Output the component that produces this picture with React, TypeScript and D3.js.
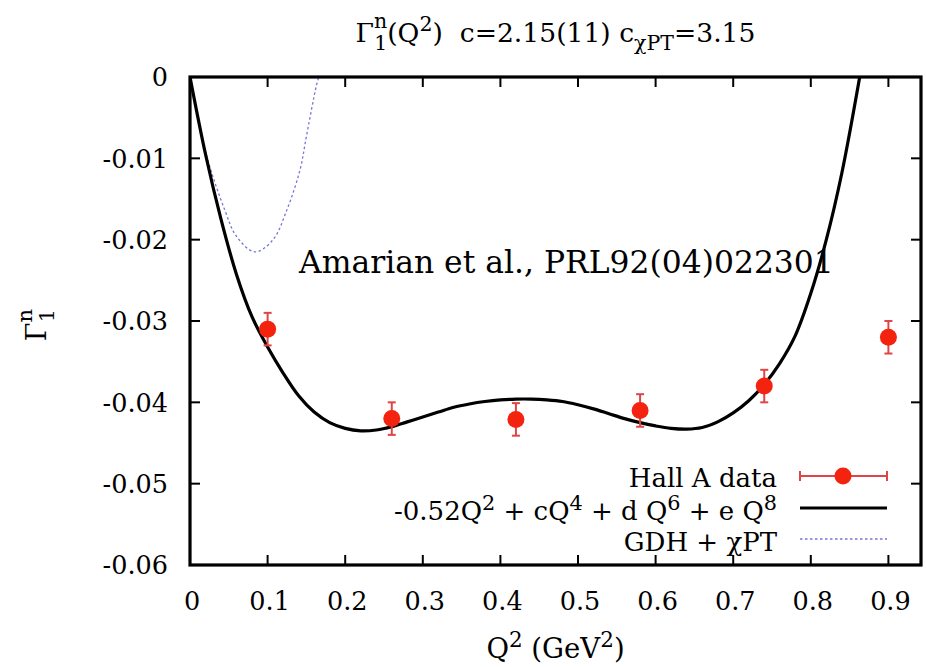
import React from "react";
import * as d3 from "d3";

// Hall A neutron first-moment data
const q2 = [0.1, 0.26, 0.42, 0.58, 0.74, 0.9];
const gamma = [-0.031, -0.042, -0.0421, -0.041, -0.038, -0.032];
const gammaErr = [0.002, 0.002, 0.002, 0.002, 0.002, 0.002];

// Polynomial fit curve, sampled
const fitQ2 = [0, 0.02, 0.04, 0.06, 0.08, 0.1, 0.12, 0.14, 0.16, 0.18, 0.2, 0.22, 0.24, 0.26, 0.28, 0.3, 0.32, 0.34, 0.36, 0.38, 0.4, 0.42, 0.44, 0.46, 0.48, 0.5, 0.52, 0.54, 0.56, 0.58, 0.6, 0.62, 0.64, 0.66, 0.68, 0.7, 0.72, 0.74, 0.76, 0.78, 0.8, 0.82, 0.84, 0.863];
const fitG = [0, -0.0095, -0.0175, -0.0243, -0.0295, -0.0332, -0.0364, -0.0392, -0.0412, -0.0425, -0.0432, -0.0435, -0.0434, -0.043, -0.0424, -0.0418, -0.0412, -0.0406, -0.0402, -0.0399, -0.0397, -0.0396, -0.0396, -0.0397, -0.0399, -0.0403, -0.0408, -0.0414, -0.042, -0.0425, -0.0429, -0.0432, -0.0433, -0.0431, -0.0424, -0.0413, -0.0398, -0.0378, -0.0352, -0.0318, -0.0266, -0.02, -0.0118, 0];

// GDH + chiPT curve, sampled
const gdhQ2 = [0, 0.02, 0.045, 0.06, 0.0838, 0.107, 0.1246, 0.1418, 0.15, 0.163, 0.166];
const gdhG = [0, -0.0092, -0.0164, -0.0196, -0.0215, -0.02, -0.0164, -0.0114, -0.0073, -0.001, 0];

const xTicks = [0, 0.1, 0.2, 0.3, 0.4, 0.5, 0.6, 0.7, 0.8, 0.9];
const xTickLabels = ["0", "0.1", "0.2", "0.3", "0.4", "0.5", "0.6", "0.7", "0.8", "0.9"];
const yTicks = [0, -0.01, -0.02, -0.03, -0.04, -0.05, -0.06];
const yTickLabels = ["0", "-0.01", "-0.02", "-0.03", "-0.04", "-0.05", "-0.06"];

const W = 926;
const H = 667;
const left = 190;
const right = 921;
const top = 77;
const bottom = 565;

const FONT = '"DejaVu Serif", serif';
const RED = "#f3230f";
const BAR = "#e04545";
const BLUE = "#7575d8";

export default function App() {
  const x = d3.scaleLinear().domain([0, 0.942]).range([left, right]);
  const y = d3.scaleLinear().domain([-0.06, 0]).range([bottom, top]);

  const line = d3
    .line<number>()
    .x((_, i) => x(fitQ2[i]))
    .y((d) => y(d))
    .curve(d3.curveCatmullRom.alpha(0.5));
  const gdhLine = d3
    .line<number>()
    .x((_, i) => x(gdhQ2[i]))
    .y((d) => y(d))
    .curve(d3.curveCatmullRom.alpha(0.5));

  const tickLen = 10;
  const tfs = 25.5;
  const lfs = 26;
  const sup = (s: string, f: number, raise: number) => (
    <tspan fontSize={f * 0.8} dy={-raise}>{s}</tspan>
  );
  const st: React.CSSProperties = { fontFamily: FONT, whiteSpace: "pre" };

  return (
    <svg
      width={W}
      height={H}
      style={{ position: "absolute", left: 0, top: 0, background: "#fff", fontFamily: FONT }}
    >
      <rect x={0} y={0} width={W} height={H} fill="#fff" />
      <defs>
        <clipPath id="plotArea">
          <rect x={left} y={top} width={right - left} height={bottom - top} />
        </clipPath>
      </defs>

      {/* Title */}
      <text x={(left + right) / 2} y={42} fontSize={26.6} textAnchor="middle" style={st}>
        Γ
        <tspan fontSize={20.5} dy={-14}>n</tspan>
        <tspan fontSize={20.5} dx={-13} dy={22}>1</tspan>
        <tspan dy={-8}>(Q</tspan>
        <tspan fontSize={20.5} dy={-11}>2</tspan>
        <tspan dy={11}>)  c=2.15(11) c</tspan>
        <tspan fontSize={20.5} dy={8}>χPT</tspan>
        <tspan dy={-8}>=3.15</tspan>
      </text>

      {/* Ticks */}
      <g stroke="#000" strokeWidth={2}>
        {xTicks.map((t) => (
          <g key={"xt" + t}>
            <line x1={x(t)} x2={x(t)} y1={bottom} y2={bottom - tickLen} />
            <line x1={x(t)} x2={x(t)} y1={top} y2={top + tickLen} />
          </g>
        ))}
        {yTicks.map((t) => (
          <g key={"yt" + t}>
            <line x1={left} x2={left + tickLen} y1={y(t)} y2={y(t)} />
            <line x1={right} x2={right - tickLen} y1={y(t)} y2={y(t)} />
          </g>
        ))}
      </g>

      {/* Tick labels */}
      {xTicks.map((t, i) => (
        <text key={"xl" + t} x={x(t) + 2} y={610} fontSize={tfs} textAnchor="middle" style={st}>
          {xTickLabels[i]}
        </text>
      ))}
      {yTicks.map((t, i) => (
        <text key={"yl" + t} x={168} y={y(t)} dy="0.36em" fontSize={tfs} textAnchor="end" style={st}>
          {yTickLabels[i]}
        </text>
      ))}

      {/* Axis labels */}
      <text x={(left + right) / 2} y={658} fontSize={27.5} textAnchor="middle" style={st}>
        Q
        <tspan fontSize={21.5} dy={-11}>2</tspan>
        <tspan dy={11}> (GeV</tspan>
        <tspan fontSize={21.5} dy={-11}>2</tspan>
        <tspan dy={11}>)</tspan>
      </text>
      <text transform="translate(46,325) rotate(-90)" fontSize={27} textAnchor="middle" style={st}>
        Γ
        <tspan fontSize={21} dy={-14}>n</tspan>
        <tspan fontSize={21} dx={-13.3} dy={22}>1</tspan>
      </text>

      {/* Curves */}
      <g clipPath="url(#plotArea)">
        <path d={gdhLine(gdhG) || ""} fill="none" stroke={BLUE} strokeWidth={1.3} strokeDasharray="2.5,2.5" />
        <path d={line(fitG) || ""} fill="none" stroke="#000" strokeWidth={3.2} />
      </g>

      {/* Data with error bars */}
      <g>
        {q2.map((q, i) => {
          const cx = x(q);
          const y1 = y(gamma[i] + gammaErr[i]);
          const y2 = y(gamma[i] - gammaErr[i]);
          return (
            <g key={"pt" + i}>
              <g stroke={BAR} strokeWidth={2}>
                <line x1={cx} x2={cx} y1={y1} y2={y2} />
                <line x1={cx - 4} x2={cx + 4} y1={y1} y2={y1} />
                <line x1={cx - 4} x2={cx + 4} y1={y2} y2={y2} />
              </g>
              <circle cx={cx} cy={y(gamma[i])} r={8.5} fill={RED} />
            </g>
          );
        })}
      </g>

      {/* Annotation */}
      <text x={299} y={273} fontSize={31.4} style={st}>Amarian et al., PRL92(04)022301</text>

      {/* Legend */}
      <g fontSize={lfs} textAnchor="end">
        <text x={777} y={487} style={st}>Hall A data</text>
        <text x={777} y={520} style={st}>
          -0.52Q
          {sup("2", lfs, 10)}
          <tspan dy={10}> + cQ</tspan>
          {sup("4", lfs, 10)}
          <tspan dy={10}> + d Q</tspan>
          {sup("6", lfs, 10)}
          <tspan dy={10}> + e Q</tspan>
          {sup("8", lfs, 10)}
        </text>
        <text x={777} y={551} style={st}>GDH + χPT</text>
      </g>
      <g>
        <g stroke={BAR} strokeWidth={2}>
          <line x1={800} x2={887} y1={476} y2={476} />
          <line x1={800} x2={800} y1={471} y2={481} />
          <line x1={887} x2={887} y1={471} y2={481} />
        </g>
        <circle cx={843} cy={476} r={8.5} fill={RED} />
        <line x1={800} x2={887} y1={508} y2={508} stroke="#000" strokeWidth={3.2} />
        <line x1={800} x2={887} y1={539} y2={539} stroke={BLUE} strokeWidth={1.3} strokeDasharray="2.5,2.5" />
      </g>

      {/* Frame */}
      <rect x={left} y={top} width={right - left} height={bottom - top} fill="none" stroke="#000" strokeWidth={3.2} />
    </svg>
  );
}
